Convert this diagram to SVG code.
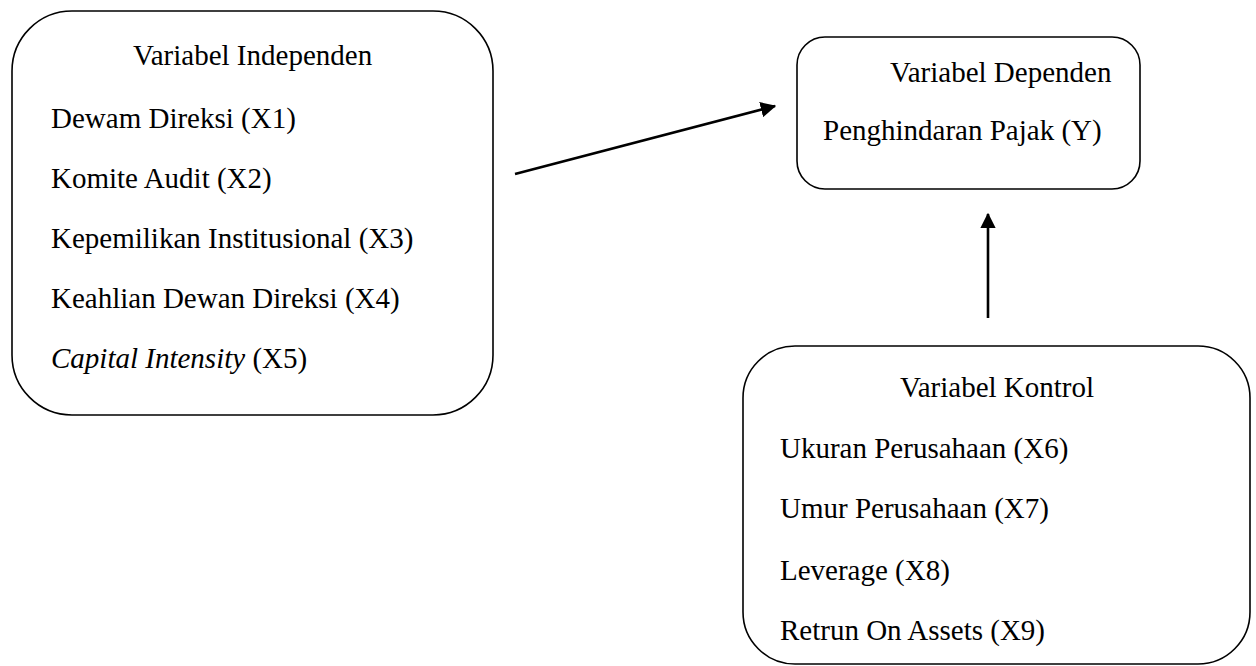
<svg xmlns="http://www.w3.org/2000/svg" width="1256" height="666" viewBox="0 0 1256 666">
<style>
.box{fill:#fff;stroke:#000;stroke-width:1.6}
.t{font-family:"Liberation Serif","Times New Roman",serif;font-size:29px;fill:#000}
.edge{stroke:#000;stroke-width:2.6;fill:none}
</style>
<defs>
<marker id="ah" markerWidth="6" markerHeight="6" refX="5.5" refY="3" orient="auto" markerUnits="strokeWidth" viewBox="0 0 6 6">
<path d="M0,0 L6,3 L0,6 Z" fill="#000"/>
</marker>
</defs>
<rect width="1256" height="666" fill="#fff"/>
<g id="independen">
<rect class="box" x="12" y="11" width="481" height="404" rx="60" ry="60"/>
<text class="t" x="133" y="65">Variabel Independen</text>
<text class="t" x="51" y="128">Dewam Direksi (X1)</text>
<text class="t" x="51" y="188">Komite Audit (X2)</text>
<text class="t" x="51" y="248">Kepemilikan Institusional (X3)</text>
<text class="t" x="51" y="308">Keahlian Dewan Direksi (X4)</text>
<text class="t" x="51" y="368"><tspan font-style="italic">Capital Intensity</tspan> (X5)</text>
</g>
<g id="dependen">
<rect class="box" x="797" y="37" width="343" height="152" rx="28" ry="28"/>
<text class="t" x="890" y="82">Variabel Dependen</text>
<text class="t" x="823" y="140">Penghindaran Pajak (Y)</text>
</g>
<g id="kontrol">
<rect class="box" x="743" y="346" width="507" height="318" rx="52" ry="52"/>
<text class="t" x="900" y="397">Variabel Kontrol</text>
<text class="t" x="780" y="458">Ukuran Perusahaan (X6)</text>
<text class="t" x="780" y="518">Umur Perusahaan (X7)</text>
<text class="t" x="780" y="580">Leverage (X8)</text>
<text class="t" x="780" y="640">Retrun On Assets (X9)</text>
</g>
<g id="connectors">
<line class="edge" x1="515" y1="174" x2="775" y2="106" marker-end="url(#ah)"/>
<line class="edge" x1="988" y1="318" x2="988" y2="214" marker-end="url(#ah)"/>
</g>
</svg>
